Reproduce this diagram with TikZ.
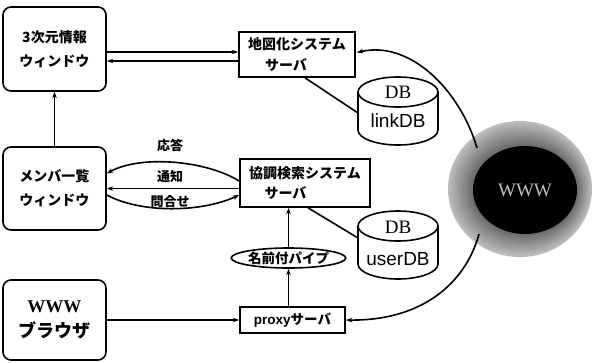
\documentclass[tikz,border=0pt]{standalone}
\usepackage{fontspec}
\newfontfamily\jp{Noto Sans CJK JP}
\newfontfamily\ser{Liberation Serif}
\newfontfamily\san{Liberation Sans}
\usetikzlibrary{shapes.geometric,arrows.meta,calc}
\begin{document}
\begin{tikzpicture}[x=1pt,y=-1pt, line width=1.6pt,
  win/.style={draw, rounded corners=8pt, minimum width=103pt, minimum height=84pt, inner sep=0pt, align=center, font=\jp\bfseries\fontsize{14}{24}\selectfont},
  srv/.style={draw, inner sep=0pt, align=left, font=\jp\bfseries\fontsize{14}{21}\selectfont},
  lbl/.style={font=\jp\bfseries\fontsize{13}{14}\selectfont, inner sep=0pt},
  arr/.style={-{Stealth[length=6.5pt,width=4.5pt]}},
  dbtop/.style={font=\ser\fontsize{19}{20}\selectfont, inner sep=0pt},
  dbname/.style={font=\san\fontsize{19}{20}\selectfont, inner sep=0pt},
]
\useasboundingbox (0,0) rectangle (595,362);

% windows
\node[win] (w3d) at (54.5,49) {3次元情報\\ウィンドウ};
\node[win, minimum height=83pt] (mem) at (54.5,188.5) {メンバ一覧\\ウィンドウ};
\node[win, minimum height=80pt, font=\jp\bfseries\fontsize{18}{25}\selectfont] (brw) at (54.5,320) {{\ser WWW}\\ブラウザ};

% servers
\node[srv, minimum width=116pt, minimum height=45pt] (map) at (297,54.5) {地図化システム\\\hspace*{1.2em}サーバ};
\node[srv, minimum width=130pt, minimum height=48pt, font=\jp\bfseries\fontsize{14}{20}\selectfont] (coop) at (305,183) {協調検索システム\\\hspace*{1.1em}サーバ};
\node[draw, ellipse, inner sep=0pt, minimum width=107pt, minimum height=20pt, font=\jp\bfseries\fontsize{13.5}{14}\selectfont] (pipe) at (288.5,258) {名前付パイプ};
\node[draw, inner sep=0pt, minimum width=105pt, minimum height=26pt, font=\jp\bfseries\fontsize{13.5}{14}\selectfont] (proxy) at (292.5,320) {{\san proxy}サーバ};

% databases
\draw (358,92) -- (358,130) arc[start angle=180, end angle=0, x radius=40, y radius=15] -- (438,92);
\draw (398,92) ellipse [x radius=40, y radius=15];
\node[dbtop] (ldbt) at (398,92) {DB};
\node[dbname] (ldbn) at (398,121) {linkDB};
\coordinate (linkL) at (358,113);

\draw (358,226) -- (358,264) arc[start angle=180, end angle=0, x radius=40, y radius=15] -- (438,226);
\draw (398,226) ellipse [x radius=40, y radius=15];
\node[dbtop] (udbt) at (398,227) {DB};
\node[dbname] (udbn) at (398,259) {userDB};
\coordinate (userL) at (358,238);

% WWW cloud: fading stippled halo
\foreach \i in {0,...,10}{
  \pgfmathsetmacro{\g}{27+3.3*\i}
  \fill[black!\g] ($(520,189)!\i/10!(525,190)$) ellipse [x radius={72-2*\i}, y radius={68-2.4*\i}];
}
\node[ellipse, fill=black, inner sep=0pt, minimum width=104pt, minimum height=88pt, text=black!25, font=\ser\fontsize{19}{20}\selectfont] (www) at (525,190) {WWW};
\coordinate (wtop) at ($(www.center)+(-48,-42)$);
\coordinate (wbot) at ($(www.center)+(-46,44)$);

% connectors
\draw[arr] (w3d.east |- 0,52) -- (map.west |- 0,52);
\draw[arr] (map.west |- 0,61) -- (w3d.east |- 0,61);
\draw[arr] (mem.north) -- (w3d.south);
\draw (map.south -| 305,0) -- (linkL);
\draw (coop.south -| 308,0) -- (userL);

\draw[arr] ($(coop.west)+(0,-2)$) .. controls (205,160) and (140,155) .. ($(mem.east)+(0,-15)$);
\draw[arr] (coop.west |- mem.east) -- (mem.east);
\draw[arr] ($(mem.east)+(0,6.5)$) .. controls (140,213) and (200,213) .. ($(coop.west)+(0,12)$);
\node[lbl] (l1) at (170,145) {応答};
\node[lbl] (l2) at (170,177) {通知};
\node[lbl] (l3) at (170,202) {問合せ};

\draw[arr] (brw.east) -- (proxy.west);
\draw[arr] (pipe.south |- proxy.north) -- (pipe.south);
\draw[arr] (pipe.north) -- (pipe.north |- coop.south);

\draw[arr] (wtop) .. controls (460,90) and (410,40) .. ($(map.east)+(1,-2)$);
\draw[arr] (wbot) .. controls (465,285) and (420,321) .. (proxy.east);
\end{tikzpicture}
\end{document}
